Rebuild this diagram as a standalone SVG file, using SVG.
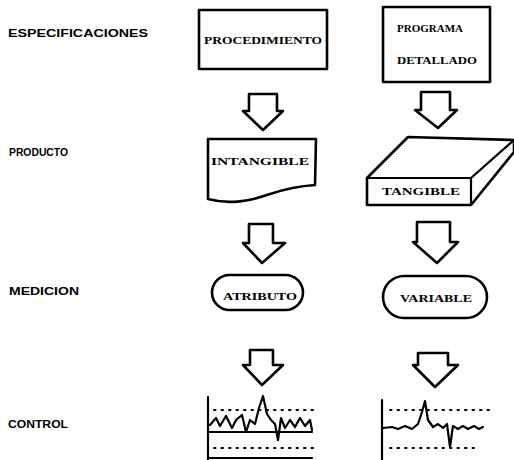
<svg xmlns="http://www.w3.org/2000/svg" width="514" height="460" viewBox="0 0 514 460">
<style>
.s{fill:#fff;stroke:#000;stroke-width:2.6;stroke-linejoin:round;stroke-linecap:round}
.l{fill:none;stroke:#000;stroke-width:2.2;stroke-linejoin:round;stroke-linecap:round}
.d{fill:none;stroke:#000;stroke-width:2;stroke-dasharray:1.5 6;stroke-linecap:round}
.lab{font-family:"Liberation Sans",Arial,sans-serif;font-weight:bold;font-size:10px;fill:#000}
.t{font-family:"Liberation Serif","Times New Roman",serif;font-weight:bold;font-size:10px;fill:#000;text-anchor:middle}
</style>
<rect width="514" height="460" fill="#fff"/>
<g id="labels">
<text class="lab" x="8" y="37" textLength="140" lengthAdjust="spacingAndGlyphs">ESPECIFICACIONES</text>
<text class="lab" x="9" y="156" textLength="59" lengthAdjust="spacingAndGlyphs">PRODUCTO</text>
<text class="lab" x="9" y="295" textLength="70" lengthAdjust="spacingAndGlyphs">MEDICION</text>
<text class="lab" x="8" y="428" textLength="60" lengthAdjust="spacingAndGlyphs">CONTROL</text>
</g>
<g id="procedimiento">
<rect class="s" x="199" y="10" width="128" height="59"/>
<text class="t" x="263" y="44" textLength="118" lengthAdjust="spacingAndGlyphs">PROCEDIMIENTO</text>
</g>
<g id="programa">
<rect class="s" x="383" y="7" width="107" height="75"/>
<text class="t" x="430" y="32" textLength="66" lengthAdjust="spacingAndGlyphs">PROGRAMA</text>
<text class="t" x="437" y="64" textLength="80" lengthAdjust="spacingAndGlyphs">DETALLADO</text>
</g>
<g id="intangible">
<path class="s" d="M208,139 L316,139 L315,185 C300,186 285,189 270,194 C250,201 230,205 208,199 Z"/>
<text class="t" x="260" y="165" textLength="98" lengthAdjust="spacingAndGlyphs">INTANGIBLE</text>
</g>
<g id="tangible">
<path class="s" d="M367,178 L408,137 L514,140 L514,152 L471,205 L367,205 Z"/>
<path class="l" d="M367,178 L471,178 L514,140 M471,178 L471,205"/>
<text class="t" x="421" y="195" textLength="78" lengthAdjust="spacingAndGlyphs">TANGIBLE</text>
</g>
<g id="atributo">
<rect class="s" x="212" y="275" width="91" height="35" rx="17.5"/>
<text class="t" x="260" y="300" textLength="74" lengthAdjust="spacingAndGlyphs">ATRIBUTO</text>
</g>
<g id="variable">
<rect class="s" x="383" y="276" width="104" height="42" rx="21"/>
<text class="t" x="436" y="302" textLength="72" lengthAdjust="spacingAndGlyphs">VARIABLE</text>
</g>
<g id="control1">
<path class="l" d="M208,397 L208,460"/>
<path class="d" d="M214,410 L313,410"/>
<path class="d" d="M214,448 L313,448"/>
<path class="l" d="M209,432 L312,432"/>
<path class="l" d="M210,425 L216,418 L220,426 L226,416 L232,428 L236,420 L242,415 L246,432 L250,420 L255,424 L259,408 L263,396 L267,414 L271,420 L275,424 L278,440 L281,418 L285,428 L290,420 L295,427 L300,418 L305,426 L310,420 L312,430"/>
<path class="l" d="M208,458 L312,458"/>
</g>
<g id="control2">
<path class="l" d="M382,400 L382,460"/>
<path class="d" d="M390,410 L490,410"/>
<path class="d" d="M390,448 L480,448"/>
<path class="l" d="M383,428 L392,427 L398,429 L405,426 L412,429 L418,424 L422,412 L425,401 L428,420 L433,427 L438,424 L443,428 L447,424 L450,447 L453,426 L458,429 L463,426 L468,429 L474,426 L479,429 L483,427"/>
</g>
<g id="connectors">
<path class="s" d="M249,94 L277,94 L277,111 L283,111 L263,130 L243,111 L249,111 Z"/>
<path class="s" d="M421,92 L450,92 L450,110 L457,110 L438,128 L415,110 L421,110 Z"/>
<path class="s" d="M249,224 L273,224 L273,243 L285,243 L262,263 L243,243 L249,243 Z"/>
<path class="s" d="M417,222 L450,222 L450,242 L458,242 L437,263 L413,242 L417,242 Z"/>
<path class="s" d="M250,350 L273,350 L273,365 L283,365 L262,385 L243,365 L250,365 Z"/>
<path class="s" d="M418,353 L448,353 L448,365 L458,365 L435,387 L413,365 L418,365 Z"/>
</g>
</svg>
